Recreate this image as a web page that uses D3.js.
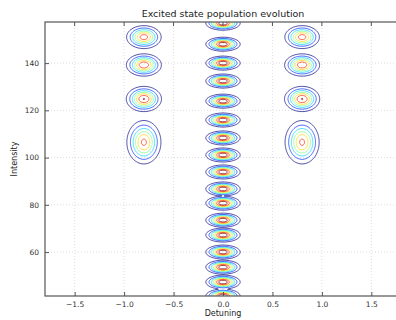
<!DOCTYPE html>
<html>
<head>
<meta charset="utf-8">
<script src="https://cdn.jsdelivr.net/npm/d3@7"></script>
<style>
  html, body { margin: 0; padding: 0; background: #fff; }
  svg { display: block; font-family: "DejaVu Sans", sans-serif; }
</style>
</head>
<body>
<svg id="chart" width="396" height="320"></svg>
<script>
// Axis ticks
const xTicks = [-1.5, -1.0, -0.5, 0.0, 0.5, 1.0, 1.5];
const yTicks = [60, 80, 100, 120, 140];

// Resonance lobes on zero detuning: intensity of each population maximum
const centralIntensity = [156.9, 148.0, 140.0, 132.4, 123.9, 115.9, 108.3, 101.1,
                          93.9, 86.7, 80.7, 73.5, 67.2, 60.0, 53.6, 47.3, 41.4];
const centralPeak = [1.0, 1.0, 1.0, 1.0, 1.0, 1.0, 1.0, 1.0,
                     1.0, 1.0, 1.0, 1.0, 1.0, 1.0, 1.0, 1.0, 1.0];

// Side resonances at +/- detuning
const sideDetuning = [-0.8, 0.8];
const sideIntensity = [151.0, 139.2, 124.8, 106.5];
const sidePeak = [0.82, 0.86, 0.88, 0.78];
const sideSpreadY = [2.5, 2.4, 2.7, 4.8];

// Contour levels
const levels = [0.125, 0.25, 0.375, 0.5, 0.625, 0.75, 0.875];

const plot = { left: 45, right: 401, top: 22, bottom: 296 };

const x = d3.scaleLinear().domain([-1.8, 1.8]).range([plot.left, plot.right]);
const y = d3.scaleLinear().domain([41.4, 157.4]).range([plot.bottom, plot.top]);

// Sample the population field on a regular grid
const gx0 = -1.8, gdx = 0.01, nx = 361;
const gy0 = 41.0, gdy = 0.25, ny = 469;
const field = new Float64Array(nx * ny);
const centralSx = 0.085, centralSy = 1.45, sideSx = 0.09;
for (let j = 0; j < ny; j++) {
  const yy = gy0 + j * gdy;
  for (let i = 0; i < nx; i++) {
    const xx = gx0 + i * gdx;
    let v = 0;
    centralIntensity.forEach((c, k) => {
      const dX = xx / centralSx, dY = (yy - c) / centralSy;
      v = Math.max(v, centralPeak[k] * Math.exp(-0.5 * (dX * dX + dY * dY)));
    });
    sideDetuning.forEach(sd => {
      sideIntensity.forEach((c, k) => {
        const dX = (xx - sd) / sideSx, dY = (yy - c) / sideSpreadY[k];
        v = Math.max(v, sidePeak[k] * Math.exp(-0.5 * (dX * dX + dY * dY)));
      });
    });
    field[j * nx + i] = v;
  }
}

const contours = d3.contours().size([nx, ny]).thresholds(levels)(Array.from(field));

const jet = t => {
  const c = v => Math.round(255 * Math.max(0, Math.min(1, v)));
  return `rgb(${c(1.5 - Math.abs(4 * t - 3))},${c(1.5 - Math.abs(4 * t - 2))},${c(1.5 - Math.abs(4 * t - 1))})`;
};
const color = d3.scaleLinear().domain([levels[0], levels[levels.length - 1]]).range([0, 1]);

const gridToScreen = d3.geoTransform({
  point(px, py) {
    this.stream.point(x(gx0 + (px - 0.5) * gdx), y(gy0 + (py - 0.5) * gdy));
  }
});
const path = d3.geoPath(gridToScreen);

const svg = d3.select("#chart");

svg.append("defs").append("clipPath").attr("id", "plotclip")
  .append("rect")
  .attr("x", plot.left).attr("y", plot.top)
  .attr("width", plot.right - plot.left).attr("height", plot.bottom - plot.top);

// Grid
const grid = svg.append("g").attr("stroke", "#d4d4d4").attr("stroke-width", 0.8)
  .attr("stroke-dasharray", "1,2");
grid.selectAll(".gx").data(xTicks).join("line")
  .attr("x1", d => x(d)).attr("x2", d => x(d))
  .attr("y1", plot.top).attr("y2", plot.bottom);
grid.selectAll(".gy").data(yTicks).join("line")
  .attr("x1", plot.left).attr("x2", plot.right)
  .attr("y1", d => y(d)).attr("y2", d => y(d));

// Contour lines
svg.append("g").attr("clip-path", "url(#plotclip)")
  .selectAll("path").data(contours).join("path")
  .attr("d", path)
  .attr("fill", "none")
  .attr("stroke", d => jet(color(d.value)))
  .attr("stroke-width", 1)
  .attr("stroke-opacity", 0.7);

// Frame
svg.append("rect")
  .attr("x", plot.left).attr("y", plot.top)
  .attr("width", plot.right - plot.left).attr("height", plot.bottom - plot.top)
  .attr("fill", "none").attr("stroke", "#555").attr("stroke-width", 1.2);

// Axes with inward ticks
const fmtX = d => d3.format(".1f")(d).replace("-", "\u2212");
const xAxis = d3.axisBottom(x).tickValues(xTicks).tickFormat(fmtX).tickSizeInner(-4).tickSizeOuter(0).tickPadding(6);
const yAxis = d3.axisLeft(y).tickValues(yTicks).tickFormat(d3.format("d")).tickSizeInner(-4).tickSizeOuter(0).tickPadding(6);

const gx = svg.append("g").attr("transform", `translate(0,${plot.bottom})`).call(xAxis);
const gy = svg.append("g").attr("transform", `translate(${plot.left},0)`).call(yAxis);
[gx, gy].forEach(g => {
  g.select(".domain").remove();
  g.selectAll("line").attr("stroke", "#555");
  g.selectAll("text").attr("font-size", 7.5).attr("fill", "#333")
    .attr("font-family", "DejaVu Sans, sans-serif");
});
// Top ticks
svg.append("g").selectAll("line").data(xTicks).join("line")
  .attr("x1", d => x(d)).attr("x2", d => x(d))
  .attr("y1", plot.top).attr("y2", plot.top + 4).attr("stroke", "#555");

// Titles
svg.append("text").attr("x", 223).attr("y", 17).attr("text-anchor", "middle")
  .attr("font-size", 9.5).attr("fill", "#222").text("Excited state population evolution");
svg.append("text").attr("x", 223).attr("y", 316).attr("text-anchor", "middle")
  .attr("font-size", 8).attr("fill", "#222").text("Detuning");
svg.append("text").attr("transform", "translate(17,159) rotate(-90)").attr("text-anchor", "middle")
  .attr("font-size", 8).attr("fill", "#222").text("Intensity");
</script>
</body>
</html>
